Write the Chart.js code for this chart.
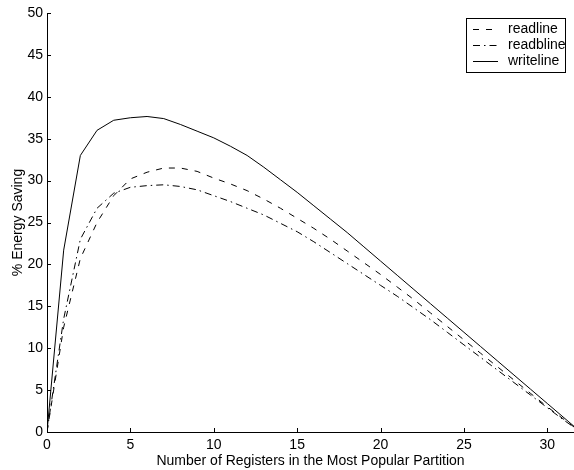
<!DOCTYPE html>
<html>
<head>
<meta charset="utf-8">
<script src="https://cdn.jsdelivr.net/npm/chart.js@4/dist/chart.umd.min.js"></script>
<style>
  html, body { margin: 0; padding: 0; background: #fff; overflow: hidden; }
  #wrap { width: 574px; height: 470px; }
</style>
</head>
<body>
<div id="wrap"><canvas id="chart" width="574" height="470"></canvas></div>
<script>
// Registers in the most popular partition (x) and energy saving per access type (%)
const registers = [0, 1, 2, 3, 4, 5, 6, 7, 8, 9, 10, 11, 12, 13, 14, 15, 16,
                   17, 18, 19, 20, 21, 22, 23, 24, 25, 26, 27, 28, 29, 30, 31, 32];
const readline  = [0, 12.5, 20.7, 25.0, 28.2, 30.2, 31.0, 31.5, 31.5, 31.1, 30.3, 29.6, 28.8,
                   27.8, 26.7, 25.5, 24.3, 23.0, 21.6, 20.2, 18.8, 17.3, 15.8, 14.2, 12.6,
                   11.0, 9.4, 7.8, 6.2, 4.6, 3.0, 1.5, 0];
const readbline = [0, 13.5, 23.0, 26.7, 28.5, 29.2, 29.4, 29.5, 29.3, 28.9, 28.2, 27.5, 26.7,
                   25.9, 24.9, 23.9, 22.7, 21.4, 20.1, 18.8, 17.5, 16.2, 14.8, 13.4, 11.9,
                   10.4, 8.9, 7.4, 5.9, 4.4, 2.9, 1.4, 0];
const writeline = [0, 21.7, 33.0, 36.0, 37.2, 37.5, 37.65, 37.4, 36.7, 35.9, 35.1, 34.1, 33.0,
                   31.6, 30.1, 28.6, 27.0, 25.4, 23.8, 22.1, 20.4, 18.7, 17.0, 15.3, 13.6,
                   11.9, 10.2, 8.5, 6.8, 5.1, 3.4, 1.7, 0];
const seriesNames = ['readline', 'readbline', 'writeline'];
const xTicks = [0, 5, 10, 15, 20, 25, 30];
const yTicks = [0, 5, 10, 15, 20, 25, 30, 35, 40, 45, 50];

const FONT = "'Liberation Sans', Arial, Helvetica, sans-serif";

const toPoints = (vals) => vals.map((v, i) => ({ x: registers[i], y: v }));

// Tick marks pointing into the plot, on the two drawn axes only
const innerTicks = {
  id: 'innerTicks',
  afterDraw(chart) {
    const { ctx, chartArea, scales: { x, y } } = chart;
    ctx.save();
    ctx.strokeStyle = '#000';
    ctx.lineWidth = 1;
    ctx.beginPath();
    x.ticks.forEach(t => {
      const px = Math.round(x.getPixelForValue(t.value)) + 0.5;
      ctx.moveTo(px, chartArea.bottom);
      ctx.lineTo(px, chartArea.bottom - 4);
    });
    y.ticks.forEach(t => {
      const py = Math.round(y.getPixelForValue(t.value)) + 0.5;
      ctx.moveTo(chartArea.left, py);
      ctx.lineTo(chartArea.left + 4, py);
    });
    ctx.stroke();
    ctx.restore();
  }
};

// Framed legend with line samples in the upper right corner
const boxedLegend = {
  id: 'boxedLegend',
  afterDraw(chart, args, opts) {
    const { ctx } = chart;
    const items = chart.data.datasets;
    const left = opts.left, top = opts.top;
    const height = opts.pad * 2 + opts.rowHeight * items.length;
    ctx.save();
    ctx.fillStyle = '#fff';
    ctx.fillRect(left, top, opts.width, height);
    ctx.strokeStyle = '#000';
    ctx.lineWidth = 1;
    ctx.setLineDash([]);
    ctx.strokeRect(left + 0.5, top + 0.5, opts.width, height);
    ctx.font = opts.fontSize + 'px ' + FONT;
    ctx.textBaseline = 'middle';
    ctx.textAlign = 'left';
    items.forEach((ds, i) => {
      const cy = Math.round(top + opts.pad + opts.rowHeight * (i + 0.5)) + 0.5;
      ctx.strokeStyle = ds.borderColor;
      ctx.lineWidth = ds.borderWidth;
      ctx.setLineDash(ds.borderDash || []);
      ctx.beginPath();
      ctx.moveTo(left + opts.sampleStart, cy);
      ctx.lineTo(left + opts.sampleStart + opts.sampleLength, cy);
      ctx.stroke();
      ctx.setLineDash([]);
      ctx.fillStyle = '#000';
      ctx.fillText(ds.label, left + opts.textStart, cy);
    });
    ctx.restore();
  }
};

const lineStyle = (label, data, dash) => ({
  label,
  data: toPoints(data),
  borderColor: '#000',
  borderWidth: 1,
  borderDash: dash,
  pointRadius: 0,
  tension: 0,
  fill: false
});

new Chart(document.getElementById('chart'), {
  type: 'line',
  data: {
    datasets: [
      lineStyle(seriesNames[0], readline, [6, 7]),
      lineStyle(seriesNames[1], readbline, [7, 4, 1.5, 4]),
      lineStyle(seriesNames[2], writeline, [])
    ]
  },
  options: {
    responsive: false,
    devicePixelRatio: 1,
    animation: false,
    layout: { padding: { top: 13, left: 0, right: 0, bottom: 0 } },
    plugins: {
      legend: { display: false },
      tooltip: { enabled: false },
      boxedLegend: {
        left: 466, top: 18, width: 99, rowHeight: 16, pad: 3,
        sampleStart: 7, sampleLength: 25, textStart: 42, fontSize: 14
      }
    },
    scales: {
      x: {
        type: 'linear',
        min: 0,
        max: 31.6,
        afterBuildTicks: s => { s.ticks = xTicks.map(v => ({ value: v })); },
        afterFit: s => { s.height = 38; },
        grid: { display: false, drawTicks: false },
        border: { display: true, color: '#000', width: 1 },
        ticks: { color: '#000', padding: 5, maxRotation: 0, font: { family: FONT, size: 14 } },
        title: {
          display: true,
          text: 'Number of Registers in the Most Popular Partition',
          color: '#000',
          padding: { top: 0, bottom: 0 },
          font: { family: FONT, size: 14 }
        }
      },
      y: {
        type: 'linear',
        min: 0,
        max: 50,
        afterBuildTicks: s => { s.ticks = yTicks.map(v => ({ value: v })); },
        afterFit: s => { s.width = 47; },
        grid: { display: false, drawTicks: false },
        border: { display: true, color: '#000', width: 1 },
        ticks: { color: '#000', padding: 4, font: { family: FONT, size: 14 } },
        title: {
          display: true,
          text: '% Energy Saving',
          color: '#000',
          padding: { top: 10, bottom: 0 },
          font: { family: FONT, size: 14 }
        }
      }
    }
  },
  plugins: [innerTicks, boxedLegend]
});
</script>
</body>
</html>
